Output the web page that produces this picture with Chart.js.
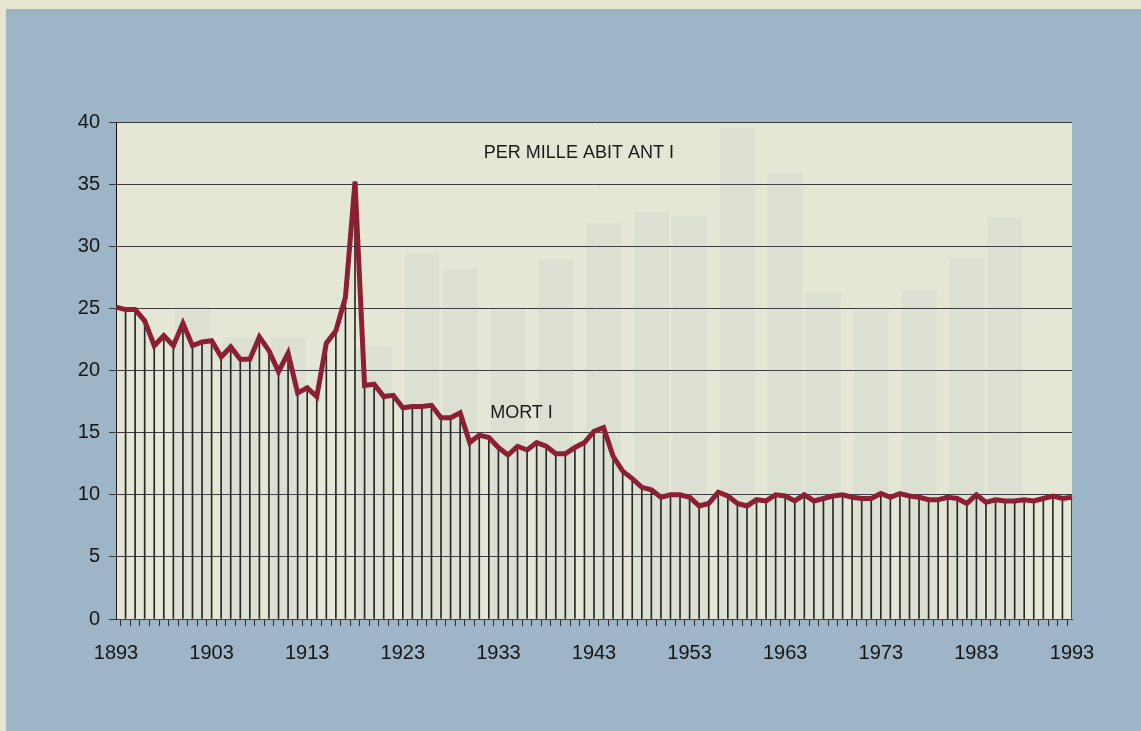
<!DOCTYPE html>
<html lang="it">
<head>
<meta charset="utf-8">
<script src="https://cdn.jsdelivr.net/npm/chart.js"></script>
<style>
  html, body { margin: 0; padding: 0; }
  body { width: 1141px; height: 731px; background: #e6e5d0; overflow: hidden; }
  .pannello { position: absolute; left: 6px; top: 9px; width: 1135px; height: 722px; background: #9db5c6; }
  #grafico { position: absolute; left: 0; top: 0; }
</style>
</head>
<body>
<div class="pannello"></div>
<canvas id="grafico" width="1141" height="731"></canvas>

<script>
// anni 1893 - 1993
var anni = [];
for (var a = 1893; a <= 1993; a++) anni.push(String(a));

// morti per mille abitanti
var morti = [
  25.1, 24.9, 24.9, 24.0, 22.0, 22.8, 22.0, 23.8, 22.0, 22.3,
  22.4, 21.1, 21.9, 20.9, 20.9, 22.7, 21.6, 19.9, 21.4, 18.2,
  18.6, 17.9, 22.2, 23.2, 25.9, 35.2, 18.8, 18.9, 17.9, 18.0,
  17.0, 17.1, 17.1, 17.2, 16.2, 16.2, 16.6, 14.2, 14.8, 14.6,
  13.8, 13.2, 13.9, 13.6, 14.2, 13.9, 13.3, 13.3, 13.8, 14.2,
  15.1, 15.4, 13.1, 11.9, 11.3, 10.6, 10.4, 9.8, 10.0, 10.0,
  9.8, 9.1, 9.3, 10.2, 9.9, 9.3, 9.1, 9.6, 9.5, 10.0,
  9.9, 9.5, 10.0, 9.5, 9.7, 9.9, 10.0, 9.8, 9.7, 9.7,
  10.1, 9.8, 10.1, 9.9, 9.8, 9.6, 9.6, 9.8, 9.7, 9.3,
  10.0, 9.4, 9.6, 9.5, 9.5, 9.6, 9.5, 9.7, 9.9, 9.7,
  9.8
];

// barre sbiadite sullo sfondo (trasparenza dalla pagina)
var anniSfondo = ['1901', '1906', '1911', '1920', '1925', '1929', '1934', '1939', '1944',
                  '1949', '1953', '1958', '1963', '1967', '1972', '1977', '1982', '1986'];
var valoriSfondo = [25.1, 22.6, 22.6, 21.9, 29.4, 28.1, 25.0, 28.9, 31.8,
                    32.7, 32.4, 39.5, 35.9, 26.2, 25.0, 26.4, 29.0, 32.3];

var tickY = [0, 5, 10, 15, 20, 25, 30, 35, 40];

var datiSfondo = anniSfondo.map(function (x, i) { return { x: x, y: valoriSfondo[i] }; });

// sfondo dell'area del grafico + scritte
var pluginSfondo = {
  id: 'sfondo',
  beforeDraw: function (chart) {
    var c = chart.ctx, ar = chart.chartArea;
    c.save();
    c.fillStyle = '#e4e6d6';
    c.fillRect(ar.left, ar.top, ar.right - ar.left, ar.bottom - ar.top);
    c.restore();
  },
  afterDraw: function (chart) {
    var c = chart.ctx, x = chart.scales.x, y = chart.scales.y;
    c.save();
    c.fillStyle = '#1a1a1a';
    c.font = '18px "Liberation Sans", Arial, sans-serif';
    c.textAlign = 'center';
    c.textBaseline = 'middle';
    c.fillText('PER MILLE ABIT ANT I', x.getPixelForValue(anni.indexOf('1941')) + 4, y.getPixelForValue(37.5));
    c.fillText('MORT I', x.getPixelForValue(anni.indexOf('1935')) + 4, y.getPixelForValue(16.6));
    c.restore();
  }
};

var ctx = document.getElementById('grafico').getContext('2d');
var grafico = new Chart(ctx, {
  type: 'bar',
  data: {
    labels: anni,
    datasets: [
      {
        type: 'line',
        label: 'Morti',
        data: morti,
        borderColor: '#8d1f35',
        borderWidth: 5,
        pointRadius: 0,
        tension: 0,
        order: 0
      },
      {
        label: 'linee',
        data: morti,
        backgroundColor: '#262626',
        barThickness: 1,
        grouped: false,
        order: 1
      },
      {
        label: 'sfondo',
        data: datiSfondo,
        backgroundColor: 'rgba(140,165,185,0.09)',
        barThickness: 34,
        grouped: false,
        order: 2
      }
    ]
  },
  options: {
    responsive: false,
    animation: false,
    layout: { padding: { left: 0, right: 69, top: 122, bottom: 0 } },
    plugins: { legend: { display: false }, tooltip: { enabled: false } },
    scales: {
      x: {
        offset: false,
        afterFit: function (s) { s.height = 112; },
        grid: { display: true, drawOnChartArea: false, color: '#2a2a2a', tickLength: 7, lineWidth: 1 },
        border: { display: true, color: '#444' },
        ticks: {
          autoSkip: false,
          maxRotation: 0,
          padding: 15,
          color: '#151515',
          font: { family: '"Liberation Sans", Arial, sans-serif', size: 20 },
          callback: function (v, i) { return (i % 10 === 0) ? anni[i] : ''; }
        }
      },
      y: {
        min: 0,
        max: 40,
        afterFit: function (s) { s.width = 116; },
        afterBuildTicks: function (s) { s.ticks = tickY.map(function (v) { return { value: v }; }); },
        grid: { color: '#3a3a3a', tickLength: 7, lineWidth: 1 },
        border: { display: true, color: '#111' },
        ticks: {
          padding: 9,
          color: '#151515',
          font: { family: '"Liberation Sans", Arial, sans-serif', size: 20 }
        }
      }
    }
  },
  plugins: [pluginSfondo]
});
</script>
</body>
</html>
